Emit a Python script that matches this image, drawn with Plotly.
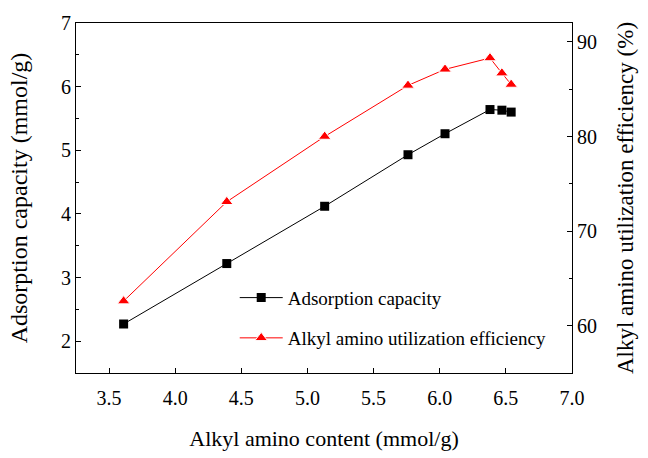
import plotly.graph_objects as go

# Alkyl amino content (mmol/g)
amino_content = [3.61, 4.39, 5.13, 5.76, 6.04, 6.38, 6.47, 6.54]
# CO2 adsorption capacity (mmol/g)
adsorption_capacity = [2.27, 3.22, 4.12, 4.93, 5.26, 5.64, 5.63, 5.60]
# Alkyl amino utilization efficiency (%)
utilization_eff = [62.6, 73.1, 80.0, 85.4, 87.1, 88.3, 86.7, 85.5]

x_ticks = [3.5, 4.0, 4.5, 5.0, 5.5, 6.0, 6.5, 7.0]
x_tick_text = ["3.5", "4.0", "4.5", "5.0", "5.5", "6.0", "6.5", "7.0"]

FONT = "Times New Roman, Liberation Serif, DejaVu Serif, serif"

fig = go.Figure()
fig.add_trace(go.Scatter(
    x=amino_content, y=adsorption_capacity, name="Adsorption capacity",
    mode="lines+markers",
    line=dict(color="black", width=1),
    marker=dict(symbol="square", size=9, color="black"),
    legend="legend", showlegend=True,
))
fig.add_trace(go.Scatter(
    x=amino_content, y=utilization_eff, name="Alkyl amino utilization efficiency",
    mode="lines+markers", yaxis="y2",
    line=dict(color="#ff0000", width=1),
    marker=dict(symbol="triangle-up", size=11, color="#ff0000",
                line=dict(color="white", width=1)),
    legend="legend2", showlegend=True,
))

axis_common = dict(
    showline=True, linecolor="black", linewidth=1,
    ticks="inside", ticklen=5, tickcolor="black", tickwidth=1,
    showgrid=False, zeroline=False,
    tickfont=dict(family=FONT, size=20, color="black"),
)

legend_common = dict(
    xanchor="left", yanchor="middle", bgcolor="rgba(0,0,0,0)",
    font=dict(family=FONT, size=19, color="black"),
    itemwidth=43, borderwidth=0,
)

fig.update_layout(
    width=648, height=458,
    margin=dict(l=76, r=76, t=22, b=73),
    paper_bgcolor="white", plot_bgcolor="white",
    showlegend=True,
    font=dict(family=FONT, size=18, color="black"),
    xaxis=dict(
        **axis_common, mirror=True, range=[3.25, 7.0], ticklabelstandoff=7,
        tickmode="array", tickvals=x_ticks, ticktext=x_tick_text,
        title=dict(text="Alkyl amino content (mmol/g)",
                   font=dict(family=FONT, size=22, color="black"), standoff=22),
    ),
    yaxis=dict(
        **axis_common, range=[1.5, 7], dtick=1,
        minor=dict(ticks="inside", ticklen=3, dtick=0.5, tickcolor="black"),
        title=dict(text="Adsorption capacity (mmol/g)",
                   font=dict(family=FONT, size=24, color="black"), standoff=26),
    ),
    yaxis2=dict(
        **axis_common, range=[55, 92], dtick=10, overlaying="y", side="right",
        minor=dict(ticks="inside", ticklen=3, dtick=5, tickcolor="black"),
        title=dict(text="Alkyl amino utilization efficiency (%)",
                   font=dict(family=FONT, size=23, color="black"), standoff=20),
    ),
    legend=dict(**legend_common, x=0.32, y=0.215),
    legend2=dict(**legend_common, x=0.32, y=0.10),
)

fig.write_html("out.html")
